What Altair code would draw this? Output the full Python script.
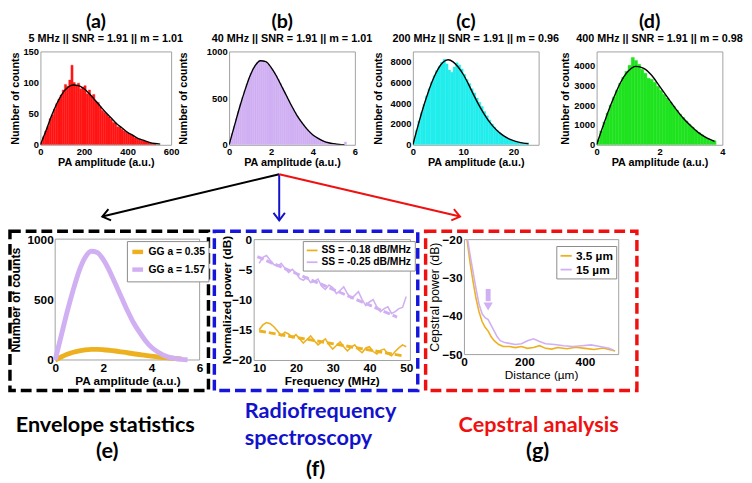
import altair as alt
import pandas as pd

FONT = "Liberation Sans, Arial, sans-serif"
CAP = "Lato"
RED = "#ff1414"
LAV = "#d0b0f3"
CYAN = "#22eded"
GREEN = "#1fe31f"
GOLD = "#EDB120"
BLUE = "#1212cc"
BOXBLUE = "#1515dd"
BOXRED = "#f01010"
FRAME = "#a0a0a0"

# ---------------- top row data ----------------
a_bin_start, a_bin_w = 0, 10
a_counts = [4, 13, 22, 30, 42, 48, 57, 66, 73, 80, 88, 97, 94, 104, 128, 100, 96, 99, 90, 93,
            95, 82, 88, 79, 81, 70, 68, 61, 55, 52, 49, 45, 41, 36, 35, 29, 28, 25, 22, 20,
            18, 16, 15, 11, 10, 9, 7, 6, 5, 4, 3, 2, 1]
a_curve_x = [0, 25, 50, 75, 100, 125, 150, 175, 200, 225, 250, 275, 300, 325, 350, 375, 400,
             425, 450, 475, 500, 525, 550]
a_curve_y = [0, 22, 46, 66, 82, 92, 96, 95, 90, 82, 72, 62, 52, 43, 34, 27, 20, 15, 10, 7, 4, 2, 1]

b_bin_start, b_bin_w = 0, 0.1
b_counts = [40, 120, 200, 280, 360, 440, 510, 580, 650, 710, 770, 815, 850, 880, 905, 895, 900,
            880, 860, 835, 815, 775, 740, 700, 660, 610, 565, 520, 475, 430, 390, 350, 310, 275,
            245, 215, 185, 160, 135, 112, 95, 80, 68, 56, 44, 36, 28, 22, 18, 13, 10, 7, 6, 4, 3, 30]
b_curve_x = [0, 0.25, 0.5, 0.75, 1.0, 1.25, 1.5, 1.75, 2.0, 2.25, 2.5, 2.75, 3.0, 3.25, 3.5,
             3.75, 4.0, 4.25, 4.5, 4.75, 5.0, 5.25, 5.5]
b_curve_y = [0, 200, 400, 580, 740, 850, 900, 890, 830, 740, 630, 520, 410, 310, 230, 160, 105,
             68, 40, 22, 12, 5, 2]

c_bin_start, c_bin_w = 0, 0.5
c_counts = [500, 1400, 2300, 3100, 3900, 4700, 5400, 6050, 6650, 7150, 7550, 7950, 8250, 7800,
            7200, 7000, 7500, 7900, 7700, 7300, 6800, 6300, 5900, 5400, 5000, 4500, 4100, 3700,
            3200, 2800, 2400, 2000, 1700, 1400, 1150, 950, 780, 630, 500, 400, 320, 250, 190,
            140, 110, 200]
c_curve_x = [0, 1, 2, 3, 4, 5, 6, 7, 8, 9, 10, 11, 12, 13, 14, 15, 16, 17, 18, 19, 20, 21, 22, 23]
c_curve_y = [0, 1800, 3500, 5000, 6300, 7300, 7950, 8200, 8000, 7500, 6800, 5900, 4900, 3950,
             3100, 2350, 1750, 1250, 880, 600, 400, 260, 160, 90]

d_bin_start, d_bin_w = 0, 0.1
d_counts = [250, 700, 1150, 1600, 2000, 2400, 2750, 3100, 3400, 3700, 4000, 4400, 4250, 4050,
            3800, 3600, 3350, 3300, 3150, 2950, 2750, 2550, 2350, 2150, 1950, 1750, 1550, 1380,
            1200, 1040, 890, 750, 620, 500, 390, 300, 220, 200]
d_curve_x = [0, 0.25, 0.5, 0.75, 1.0, 1.25, 1.5, 1.75, 2.0, 2.25, 2.5, 2.75, 3.0, 3.25, 3.5, 3.75]
d_curve_y = [0, 1150, 2200, 3100, 3700, 3950, 3850, 3500, 2950, 2400, 1850, 1350, 950, 600, 350, 170]

top_letters = ["(a)", "(b)", "(c)", "(d)"]
top_subtitles = ["5 MHz || SNR = 1.91 || m = 1.01", "40 MHz || SNR = 1.91 || m = 1.01",
                 "200 MHz || SNR = 1.91 || m = 0.96", "400 MHz || SNR = 1.91 || m = 0.98"]

# ---------------- bottom row data ----------------
e_series = ["GG a = 0.35", "GG a = 1.57"]
e_gold_x = [0, 0.25, 0.5, 0.75, 1.0, 1.25, 1.5, 1.75, 2.0, 2.25, 2.5, 2.75, 3.0, 3.25, 3.5, 3.75,
            4.0, 4.25, 4.5, 4.75, 5.0, 5.25]
e_gold_y = [0, 25, 47, 64, 76, 84, 88, 88, 85, 80, 74, 67, 60, 52, 45, 38, 32, 26, 21, 16, 12, 9]
e_lav_x = b_curve_x
e_lav_y = b_curve_y

f_series = ["SS = -0.18 dB/MHz", "SS = -0.25 dB/MHz"]
f_freq = [10, 11, 12, 13, 14, 15, 16, 17, 18, 19, 20, 21, 22, 23, 24, 25, 26, 27, 28, 29, 30,
          31, 32, 33, 34, 35, 36, 37, 38, 39, 40, 41, 42, 43, 44, 45, 46, 47, 48, 49, 50]
f_gold = [-15.0, -14.2, -13.8, -14.0, -14.5, -15.2, -16.0, -15.4, -15.7, -16.3, -15.8, -16.5,
          -17.2, -16.6, -16.0, -16.8, -17.5, -17.0, -16.5, -17.5, -18.2, -17.6, -17.0, -17.8,
          -18.5, -17.9, -17.5, -18.3, -18.8, -18.0, -17.8, -18.6, -19.0, -18.4, -18.2, -19.0,
          -19.3, -18.6, -18.0, -17.5, -17.8]
f_lav = [-4.0, -3.0, -2.7, -3.5, -4.2, -4.5, -4.0, -4.8, -5.5, -5.0, -5.6, -6.5, -6.8, -6.3,
         -7.2, -7.0, -6.6, -7.8, -8.3, -7.6, -8.0, -9.0, -8.5, -7.9, -9.0, -9.8, -9.3, -8.7,
         -10.0, -11.0, -10.4, -10.0, -11.2, -12.0, -11.5, -11.2, -12.3, -12.0, -11.5, -11.3, -9.5]
f_gold_fit_x = [10, 49]
f_gold_fit_y = [-15.2, -19.3]
f_lav_fit_x = [9.5, 47.5]
f_lav_fit_y = [-2.9, -12.9]

g_series = ["3.5 \u00b5m", "15 \u00b5m"]
g_gold_x = [10, 20, 30, 40, 50, 60, 70, 80, 90, 100, 115, 130, 150, 170, 190, 210, 230, 250, 270,
            290, 310, 340, 370, 400, 430, 460, 490, 500]
g_gold_y = [-20, -26, -31, -35.5, -39, -41.5, -43, -44, -45.5, -46.5, -47.5, -48, -48, -48.3,
            -48, -48.5, -48.3, -47.8, -48.5, -48.7, -48.3, -48.6, -48.2, -48.5, -48.8, -48.4,
            -49, -49.2]
g_lav_x = [12, 20, 30, 40, 50, 60, 70, 80, 90, 100, 110, 120, 135, 150, 170, 190, 210, 230, 250,
           270, 300, 330, 360, 390, 420, 450, 480, 495]
g_lav_y = [-20, -24, -28.5, -33, -37, -39.5, -40.5, -41, -42.5, -44, -45.5, -46.5, -47, -47.2,
           -47.5, -47.3, -46.5, -46, -46.7, -47.3, -47.5, -47.8, -48, -47.8, -47.6, -48, -48.5, -49]
g_arrow_x = 80
g_arrow_y = [-33.0, -36.2, -37.6]   # shaft top, shaft bottom, head centre

captions = ["Envelope statistics", "(e)", "Radiofrequency", "spectroscopy", "(f)",
            "Cepstral analysis", "(g)"]

one = pd.DataFrame({"k": [0]})


def ax(title, values, size, tsize, title_x=None, title_y=None, tweight="bold", lpad=2, tpad=1,
       offset=0, xtitle_x=None):
    kw = dict(title=title, values=values, format="d", grid=False, ticks=False, domain=False,
              labelFont=FONT, labelFontSize=size, labelFontWeight="bold", labelColor="black",
              titleFont=FONT, titleFontSize=tsize, titleFontWeight=tweight, titleColor="black",
              labelFlush=False, labelOverlap=False, labelPadding=lpad, titlePadding=tpad)
    if title_x is not None:
        kw.update(titleX=title_x, titleY=title_y, titleAngle=270, titleAlign="center",
                  titleBaseline="middle")
    if offset:
        kw.update(offset=offset)
    if xtitle_x is not None:
        kw.update(titleX=xtitle_x, titleAlign="center")
    return alt.Axis(**kw)


def rule(x, y, x2, y2, color, width, opacity=1.0):
    return alt.Chart(one).mark_rule(color=color, strokeWidth=width, strokeOpacity=opacity).encode(
        x=alt.value(x), y=alt.value(y), x2=alt.value(x2), y2=alt.value(y2))


def text(x, y, t, size, color, font=CAP, weight="bold", align="center"):
    return alt.Chart(one).mark_text(text=t, font=font, fontSize=size, fontWeight=weight,
                                    color=color, align=align, baseline="middle").encode(
        x=alt.value(x), y=alt.value(y))


def chevron(x, y, angle, color):
    return alt.Chart(one).mark_point(shape="M -1 -0.75 L 0 0 L -1 0.75", filled=False, size=240,
                                     strokeWidth=2, color=color, angle=angle, opacity=1).encode(
        x=alt.value(x), y=alt.value(y))


def box(x1, y1, x2, y2, color, width=3.5, dash=(11, 5)):
    return alt.Chart(one).mark_rect(fillOpacity=0, stroke=color, strokeWidth=width,
                                    strokeDash=list(dash)).encode(
        x=alt.value(x1), x2=alt.value(x2), y=alt.value(y1), y2=alt.value(y2))


def frame(x1, y1, x2, y2):
    return alt.Chart(one).mark_rect(fillOpacity=0, stroke=FRAME, strokeWidth=1).encode(
        x=alt.value(x1), x2=alt.value(x2), y=alt.value(y1), y2=alt.value(y2))


TOP_H = 95


def top_panel(bin_start, bin_w, counts, cx, cy, color, xdom, xticks, ydom, yticks, width,
              letter, sub, title_x, extra=()):
    n = len(counts)
    hist = pd.DataFrame({"x0": [bin_start + i * bin_w for i in range(n)],
                         "x1": [bin_start + (i + 1) * bin_w for i in range(n)],
                         "c": counts, "z": [0] * n})
    xs = alt.Scale(domain=xdom, nice=False, zero=False)
    ys = alt.Scale(domain=ydom, nice=False)
    xa = ax("PA amplitude (a.u.)", xticks, 9.5, 11, lpad=2, tpad=1)
    ya = ax("Number of counts", yticks, 9.5, 11, title_x=title_x, title_y=TOP_H / 2)
    bars = alt.Chart(hist).mark_rect(color=color, stroke=color, strokeWidth=0.4, clip=True).encode(
        x=alt.X("x0:Q", scale=xs, axis=xa), x2="x1:Q",
        y=alt.Y("c:Q", scale=ys, axis=ya), y2="z:Q")
    curve = alt.Chart(pd.DataFrame({"x0": cx, "c": cy})).mark_line(
        color="black", strokeWidth=1.4, interpolate="monotone", clip=True).encode(
        x=alt.X("x0:Q", scale=xs, axis=xa), y=alt.Y("c:Q", scale=ys, axis=ya))
    layers = [bars, curve,
              text(width / 2 - 10, -30, letter, 20, "black"),
              text(width / 2, -13, sub, 11, "black", font=FONT)]
    layers += list(extra)
    return alt.layer(*layers).properties(width=width, height=TOP_H)


pa = top_panel(a_bin_start, a_bin_w, a_counts, a_curve_x, a_curve_y, RED, [0, 600],
               [0, 200, 400, 600], [0, 150], [0, 50, 100, 150], 133, top_letters[0],
               top_subtitles[0], -25, extra=[rule(-32, 40, -32, 41, "white", 1, 0)])

arrows = [
    rule(51, 125, -129, 168, "black", 2),
    rule(51, 125, 51, 172, BLUE, 2),
    rule(51, 125, 235, 168, BOXRED, 2),
    chevron(-129, 168, 166.6, "black"),
    chevron(51, 172, 90, BLUE),
    chevron(235, 168, 13.2, BOXRED),
    rule(40, 177, 60, 177, "white", 1, 0),
]
pb = top_panel(b_bin_start, b_bin_w, b_counts, b_curve_x, b_curve_y, LAV, [0, 6], [0, 2, 4, 6],
               [0, 1000], [0, 500, 1000], 128, top_letters[1], top_subtitles[1], -46,
               extra=arrows)
pc = top_panel(c_bin_start, c_bin_w, c_counts, c_curve_x, c_curve_y, CYAN, [0, 25], [0, 10, 20],
               [0, 9000], [0, 2000, 4000, 6000, 8000], 128, top_letters[2], top_subtitles[2], -35)
pd_ = top_panel(d_bin_start, d_bin_w, d_counts, d_curve_x, d_curve_y, GREEN, [0, 4], [0, 2, 4],
                [0, 4700], [0, 1000, 2000, 3000, 4000], 128, top_letters[3], top_subtitles[3], -32)

top_row = alt.hconcat(pa, pb, pc, pd_, spacing=59, bounds="flush")


def legend(x, y, sw, size, fsize, rowpad=0):
    return alt.Legend(title=None, orient="none", legendX=x, legendY=y, symbolType="stroke",
                      symbolStrokeWidth=sw, symbolSize=size, labelFont=FONT, labelFontSize=fsize,
                      labelFontWeight="bold", labelColor="black", strokeColor="#8a8a8a",
                      fillColor="white", padding=3, rowPadding=rowpad, labelOffset=3)


BOT_H = 123
CAP_SIZE = 22

# (e) -- the view starts 15 px left of its plot frame so that the rows line up
E_SHIFT = 15
E_VIEW_W = 162
e_df = pd.DataFrame({"x": e_gold_x + e_lav_x, "y": e_gold_y + e_lav_y,
                     "s": [e_series[0]] * len(e_gold_x) + [e_series[1]] * len(e_lav_x)})
e_x = ax("PA amplitude (a.u.)", [0, 2, 4, 6], 12, 12, lpad=3, tpad=2,
         xtitle_x=(E_SHIFT + E_VIEW_W) / 2)
e_y = ax("Number of counts", [0, 500, 1000], 12, 12.5, title_x=-40, title_y=BOT_H / 2,
         offset=-E_SHIFT)
e_lines = alt.Chart(e_df).mark_line(strokeWidth=5, interpolate="monotone").encode(
    x=alt.X("x:Q", scale=alt.Scale(domain=[0, 6], nice=False, range=[E_SHIFT, E_VIEW_W]),
            axis=e_x),
    y=alt.Y("y:Q", scale=alt.Scale(domain=[0, 1000], nice=False), axis=e_y),
    color=alt.Color("s:N", scale=alt.Scale(domain=e_series, range=[GOLD, LAV]),
                    legend=legend(E_SHIFT + 73, 2, 4.5, 120, 10.5)),
    order=alt.Order("s:N"))
pe = alt.layer(
    frame(E_SHIFT, 0, E_VIEW_W, BOT_H),
    e_lines,
    box(E_SHIFT - 46, -8, E_VIEW_W + 9, 154, "black"),
    text(E_SHIFT + 51, 189, captions[0], CAP_SIZE, "black"),
    text(E_SHIFT + 53, 216, captions[1], CAP_SIZE, "black"),
).properties(width=E_VIEW_W, height=BOT_H, view=alt.ViewBackground(strokeOpacity=0))

# (f)
F_W = 159
f_df = pd.DataFrame({"x": f_freq + f_freq, "y": f_gold + f_lav,
                     "s": [f_series[0]] * len(f_freq) + [f_series[1]] * len(f_freq)})
f_xs = alt.Scale(domain=[8.5, 51], nice=False, zero=False)
f_ys = alt.Scale(domain=[-20, 0], nice=False)
f_x = ax("Frequency (MHz)", [10, 20, 30, 40, 50], 12, 12, lpad=3, tpad=2)
f_y = ax("Normalized power (dB)", [0, -5, -10, -15, -20], 12, 12, title_x=-28, title_y=BOT_H / 2)
f_lines = alt.Chart(f_df).mark_line(strokeWidth=1.6).encode(
    x=alt.X("x:Q", scale=f_xs, axis=f_x), y=alt.Y("y:Q", scale=f_ys, axis=f_y),
    color=alt.Color("s:N", scale=alt.Scale(domain=f_series, range=[GOLD, LAV]),
                    legend=legend(50, 2, 1.8, 120, 10.5)))


def fitline(xs_, ys_, color):
    return alt.Chart(pd.DataFrame({"x": xs_, "y": ys_})).mark_line(
        color=color, strokeWidth=3, strokeDash=[7, 3]).encode(
        x=alt.X("x:Q", scale=f_xs, axis=f_x), y=alt.Y("y:Q", scale=f_ys, axis=f_y))


pf = alt.layer(
    f_lines,
    fitline(f_gold_fit_x, f_gold_fit_y, GOLD),
    fitline(f_lav_fit_x, f_lav_fit_y, LAV),
    box(-40, -8, F_W + 8, 154, BOXBLUE),
    text(-9, 175, captions[2], CAP_SIZE, BLUE, align="left"),
    text(-9, 202, captions[3], CAP_SIZE, BLUE, align="left"),
    text(63, 234, captions[4], CAP_SIZE, "black"),
).properties(width=F_W, height=BOT_H)

# (g)
G_W = 157
G_H = 117
g_df = pd.DataFrame({"x": g_gold_x + g_lav_x, "y": g_gold_y + g_lav_y,
                     "s": [g_series[0]] * len(g_gold_x) + [g_series[1]] * len(g_lav_x)})
g_xs = alt.Scale(domain=[0, 510], nice=False)
g_ys = alt.Scale(domain=[-50, -20], nice=False)
g_x = ax("Distance (\u00b5m)", [0, 200, 400], 12, 12, tweight="normal", lpad=3, tpad=2)
g_y = ax("Cepstral power (dB)", [-20, -30, -40, -50], 12, 12.5, title_x=-30, title_y=G_H / 2,
         tweight="normal")
g_lines = alt.Chart(g_df).mark_line(strokeWidth=1.6, clip=True).encode(
    x=alt.X("x:Q", scale=g_xs, axis=g_x), y=alt.Y("y:Q", scale=g_ys, axis=g_y),
    color=alt.Color("s:N", scale=alt.Scale(domain=g_series, range=[GOLD, LAV]),
                    legend=legend(94, 7, 1.8, 130, 12, rowpad=1)))
g_arrow_df = pd.DataFrame({"x": [g_arrow_x], "y0": [g_arrow_y[0]], "y1": [g_arrow_y[1]],
                           "yh": [g_arrow_y[2]]})
g_shaft = alt.Chart(g_arrow_df).mark_rule(color=LAV, strokeWidth=5).encode(
    x=alt.X("x:Q", scale=g_xs, axis=g_x), y=alt.Y("y0:Q", scale=g_ys, axis=g_y), y2="y1:Q")
g_head = alt.Chart(g_arrow_df).mark_point(shape="triangle-down", filled=True, size=90,
                                          color=LAV, opacity=1).encode(
    x=alt.X("x:Q", scale=g_xs, axis=g_x), y=alt.Y("yh:Q", scale=g_ys, axis=g_y))
pg = alt.layer(
    g_lines, g_shaft, g_head,
    box(-39, -8, G_W + 19, 154, BOXRED),
    text(76, 189, captions[5], CAP_SIZE, BOXRED),
    text(75, 216, captions[6], CAP_SIZE, "black"),
).properties(width=G_W, height=G_H)

bottom_row = alt.hconcat(pe, pf, pg, spacing=55, bounds="flush").resolve_scale(
    color="independent").resolve_legend(color="independent")

chart = alt.concat(top_row, bottom_row, columns=1, align="none", spacing=2).resolve_scale(
    color="independent").resolve_legend(color="independent").properties(
    padding={"left": 0, "top": -1, "right": 0, "bottom": 0}, background="white"
).configure_view(stroke=FRAME, strokeWidth=1)

chart.save("out.html", embed_options={"renderer": "svg", "actions": False})
